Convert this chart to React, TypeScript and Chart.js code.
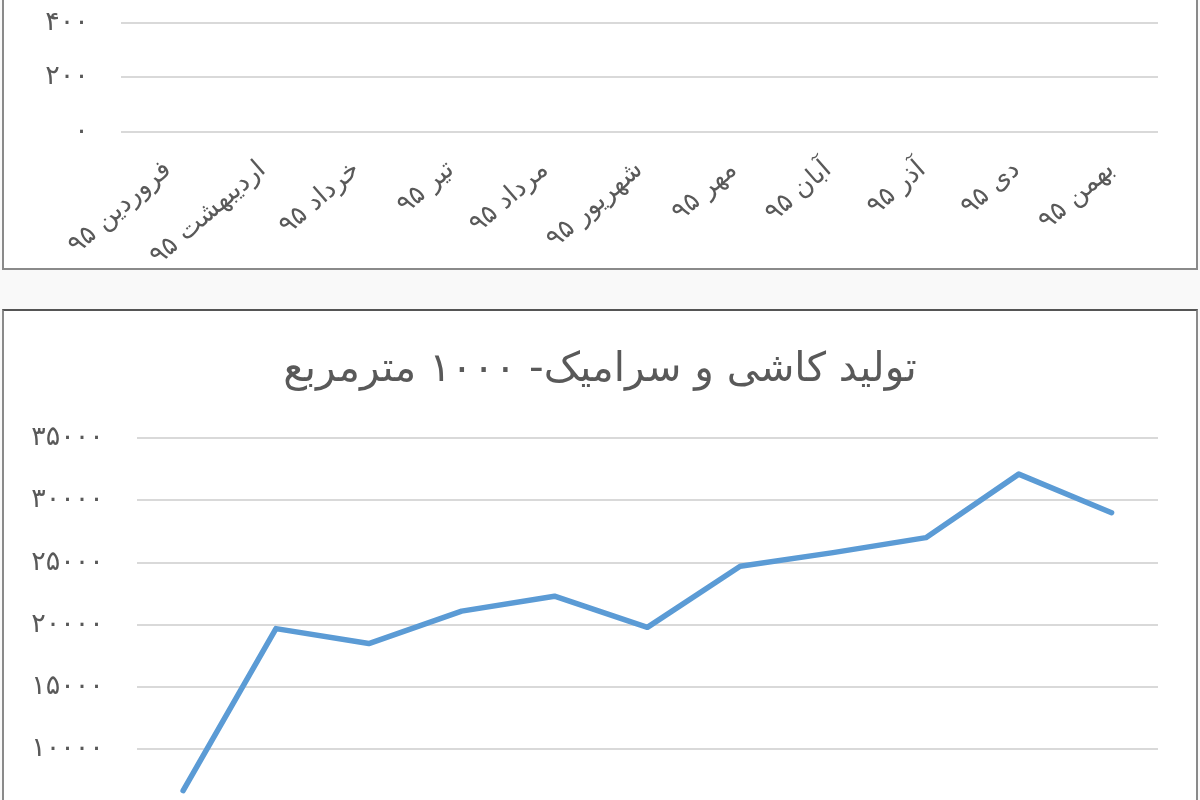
import { useEffect, useRef } from 'react';
import { Chart, registerables } from 'chart.js';

Chart.register(...registerables);

const months = [
  'فروردین ۹۵',
  'اردیبهشت ۹۵',
  'خرداد ۹۵',
  'تیر ۹۵',
  'مرداد ۹۵',
  'شهریور ۹۵',
  'مهر ۹۵',
  'آبان ۹۵',
  'آذر ۹۵',
  'دی ۹۵',
  'بهمن ۹۵',
];

// upper chart: only its bottom is in the crop, the line itself is above it (rough guesses)
const upperValues = [860, 1010, 960, 1040, 1070, 980, 1110, 1130, 1150, 1180, 1120];
const upperMin = 0;
const upperMax = 1200;
const upperStep = 200;

const tileTitle = 'تولید کاشی و سرامیک- ۱۰۰۰ مترمربع';
const tileValues = [6700, 19700, 18500, 21100, 22300, 19800, 24700, 25800, 27000, 32100, 29000];
const tileMin = 0;
const tileMax = 35000;
const tileStep = 5000;

const FONT = "'DejaVu Sans', sans-serif";
const TEXT = '#595959';
const GRID = '#d9d9d9';
const LINE = '#5B9BD5';

const faDigits = '۰۱۲۳۴۵۶۷۸۹';
function toFa(v: number | string) {
  return String(v).replace(/\d/g, (d) => faDigits[Number(d)]);
}

interface LineCardProps {
  left: number;
  top: number;
  width: number;
  height: number;
  values: number[];
  min: number;
  max: number;
  step: number;
  title?: string;
  padTop: number;
  yWidth: number;
  yPad: number;
  xHeight: number;
}

function LineCard(props: LineCardProps) {
  const canvasRef = useRef<HTMLCanvasElement | null>(null);

  useEffect(() => {
    if (!canvasRef.current) {
      return;
    }

    const chart = new Chart(canvasRef.current, {
      type: 'line',
      data: {
        labels: months,
        datasets: [
          {
            data: props.values,
            borderColor: LINE,
            borderWidth: 5.5,
            borderJoinStyle: 'round',
            borderCapStyle: 'round',
            pointRadius: 0,
            tension: 0,
            fill: false,
          },
        ],
      },
      options: {
        responsive: false,
        animation: false,
        layout: { padding: { top: props.padTop, right: 0, left: 0, bottom: 0 } },
        plugins: {
          legend: { display: false },
          tooltip: { enabled: false },
          title: {
            display: !!props.title,
            text: props.title,
            color: TEXT,
            font: { family: FONT, size: 40.5, weight: 'normal', lineHeight: 1.2 },
            padding: { top: 33.7, bottom: 43.7 },
          },
        },
        scales: {
          x: {
            offset: true,
            grid: { display: false, drawTicks: false },
            border: { display: false },
            ticks: {
              minRotation: 41,
              maxRotation: 41,
              autoSkip: false,
              padding: 23,
              color: TEXT,
              font: { family: FONT, size: 26 },
            },
            afterFit: (scale) => {
              scale.height = props.xHeight;
            },
          },
          y: {
            min: props.min,
            max: props.max,
            grid: { color: GRID, lineWidth: 2, drawTicks: false },
            border: { display: false },
            ticks: {
              stepSize: props.step,
              padding: props.yPad,
              color: TEXT,
              font: { family: FONT, size: 27 },
              callback: (v) => toFa(v),
            },
            afterFit: (scale) => {
              scale.width = props.yWidth;
            },
          },
          // empty right-hand strip, keeps the plot off the right edge
          yRight: {
            type: 'linear',
            position: 'right',
            grid: { display: false, drawTicks: false },
            border: { display: false },
            ticks: { display: false },
            afterFit: (scale) => {
              scale.width = 37;
            },
          },
        },
      },
    });

    return () => {
      chart.destroy();
    };
  }, [props]);

  return (
    <canvas
      ref={canvasRef}
      width={props.width}
      height={props.height}
      style={{ position: 'absolute', left: props.left, top: props.top }}
    />
  );
}

const panelStyle = {
  position: 'absolute' as const,
  left: 2,
  width: 1196,
  boxSizing: 'border-box' as const,
  border: '2px solid #8a8a8a',
  background: '#fff',
};

export default function App() {
  return (
    <div
      style={{
        position: 'fixed',
        left: 0,
        top: 0,
        width: 1200,
        height: 800,
        overflow: 'hidden',
        background: '#f9f9f9',
      }}
    >
      <div style={{ ...panelStyle, top: -300, height: 570 }} />
      <div style={{ ...panelStyle, top: 309, height: 600, borderTopColor: '#555' }} />
      <LineCard
        left={5}
        top={-242}
        width={1190}
        height={509}
        values={upperValues}
        min={upperMin}
        max={upperMax}
        step={upperStep}
        padTop={26.5}
        yWidth={115.7}
        yPad={32}
        xHeight={135.3}
      />
      <LineCard
        left={5}
        top={312}
        width={1190}
        height={692}
        values={tileValues}
        min={tileMin}
        max={tileMax}
        step={tileStep}
        title={tileTitle}
        padTop={0}
        yWidth={131.7}
        yPad={33}
        xHeight={130}
      />
    </div>
  );
}
